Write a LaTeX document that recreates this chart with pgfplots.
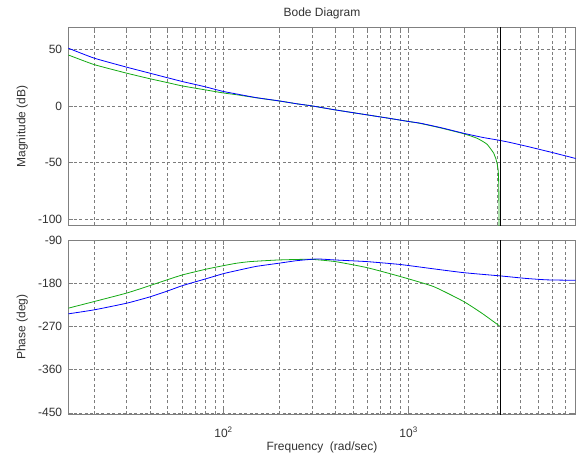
\documentclass[border=0pt]{standalone}
\usepackage{fontspec}
\setmainfont{Liberation Sans}
\usepackage{pgfplots}
\pgfplotsset{compat=1.18}
\definecolor{mblue}{RGB}{0,0,255}
\definecolor{mgreen}{RGB}{20,170,20}
\definecolor{framec}{RGB}{128,128,128}
\definecolor{gridc}{RGB}{125,125,125}
\definecolor{txt}{RGB}{50,50,50}
\begin{document}
\begin{tikzpicture}
\path[use as bounding box] (0,0) rectangle (584pt,-464pt);
\begin{axis}[
  scale only axis, width=507.4pt, height=197.3pt,
  xmode=log, xmin=14.5, xmax=8000,
  at={(68.3pt,-27.7pt)}, anchor=north west,
  font=\fontsize{12}{14}\selectfont,
  tick label style={txt},
  axis line style={framec, line width=0.9pt},
  tick style={framec, line width=0.6pt},
  tick align=inside, major tick length=5pt, minor tick length=3pt,
  xtick={100,1000},
  minor xtick={20,30,40,50,60,70,80,90,200,300,400,500,600,700,800,900,2000,3000,4000,5000,6000,7000},
  xmajorgrids, xminorgrids, ymajorgrids,
  major grid style={gridc, dash pattern=on 3pt off 2.5pt, line width=0.6pt},
  minor grid style={gridc, dash pattern=on 3pt off 2.5pt, line width=0.6pt},
  yticklabel style={inner xsep=0pt, xshift=-6pt},
  ylabel style={at={(axis description cs:-0.0907,0.5)}, anchor=center, txt},
  ymin=-105.3, ymax=69.1,
  ytick={-100,-50,0,50}, yticklabels={-100,-50,0,50},
  xticklabels={},
  ylabel={Magnitude (dB)},
  title={Bode Diagram},
  every axis title shift=0pt,
  title style={at={(axis description cs:0.5,1)}, anchor=center, yshift=14.7pt, txt},
]
\addplot[mgreen, line width=0.8pt, smooth, tension=0.3] coordinates {
(14.5,45) (20,36.5) (30,28.9) (40,24) (50,20.5) (60,17.6) (80,14.1) (100,11.4) (117,9.9)
(150,7.2) (200,4.3) (250,1.8) (300,0) (400,-3.5) (600,-8) (800,-11.2) (1000,-13.8)
(1157,-15.5) (1500,-19.6) (1983,-24.6) (2343,-28.6) (2655,-33.9) (2884,-41.8)
};
\addplot[mgreen, line width=0.8pt] coordinates {
(2884,-41.8) (2960,-46.5) (3007,-50.7) (3045,-56) (3062,-61) (3075,-75) (3082,-110)
};
\addplot[mblue, line width=0.8pt, smooth, tension=0.3] coordinates {
(14.5,51) (20,42.2) (30,34.2) (40,28.9) (50,24.8) (60,21.5) (70,19) (80,16.8) (90,14.6)
(100,12.7) (117,10.6) (150,7.3) (200,4.4) (250,1.8) (300,0) (400,-3.5) (600,-8) (800,-11.2)
(1000,-13.8) (1157,-15.3) (1500,-19.3) (1983,-24.2) (2500,-27.8) (3062,-30.3) (3548,-32.4)
(4500,-36.3) (6000,-41.3) (8000,-46.5)
};
\addplot[black, line width=0.9pt] coordinates {(3130,-200) (3130,200)};
\end{axis}
\begin{axis}[
  scale only axis, width=507.4pt, height=174.3pt,
  xmode=log, xmin=14.5, xmax=8000,
  at={(68.3pt,-240pt)}, anchor=north west,
  font=\fontsize{12}{14}\selectfont,
  tick label style={txt},
  axis line style={framec, line width=0.9pt},
  tick style={framec, line width=0.6pt},
  tick align=inside, major tick length=5pt, minor tick length=3pt,
  xtick={100,1000},
  minor xtick={20,30,40,50,60,70,80,90,200,300,400,500,600,700,800,900,2000,3000,4000,5000,6000,7000},
  xmajorgrids, xminorgrids, ymajorgrids,
  major grid style={gridc, dash pattern=on 3pt off 2.5pt, line width=0.6pt},
  minor grid style={gridc, dash pattern=on 3pt off 2.5pt, line width=0.6pt},
  yticklabel style={inner xsep=0pt, xshift=-6pt},
  ylabel style={at={(axis description cs:-0.0907,0.5)}, anchor=center, txt},
  ymin=-453.1, ymax=-90,
  ytick={-450,-360,-270,-180,-90}, yticklabels={-450,-360,-270,-180,-90},
  xticklabels={10\textsuperscript{2},10\textsuperscript{3}},
  xticklabel style={anchor=base, yshift=-23pt},
  ylabel={Phase (deg)},
  xlabel={Frequency\ \ (rad/sec)},
  xlabel style={at={(axis description cs:0.5,0)}, anchor=center, yshift=-32.7pt, txt},
]
\addplot[mgreen, line width=0.8pt, smooth, tension=0.3] coordinates {
(14.5,-232) (20,-218.2) (30,-200.5) (40,-185) (50,-172.5) (60,-162.7) (80,-151) (100,-143.4)
(117,-138.5) (139,-135) (198,-131.6) (294,-130.2) (402,-135) (596,-147.5) (901,-166)
(1365,-187) (1983,-218) (2500,-243) (3100,-269)
};
\addplot[mblue, line width=0.8pt, smooth, tension=0.3] coordinates {
(14.5,-243.8) (20,-235.5) (30,-221.6) (40,-208.5) (50,-196) (60,-185) (80,-171) (100,-160)
(117,-154) (150,-145) (198,-138.5) (249,-133) (320,-129.5) (402,-131.6) (596,-135) (901,-141)
(1300,-149) (1983,-158) (3133,-164.8) (4300,-170) (5600,-173) (8000,-174)
};
\addplot[black, line width=0.9pt] coordinates {(3130,-500) (3130,0)};
\end{axis}
\end{tikzpicture}
\end{document}
